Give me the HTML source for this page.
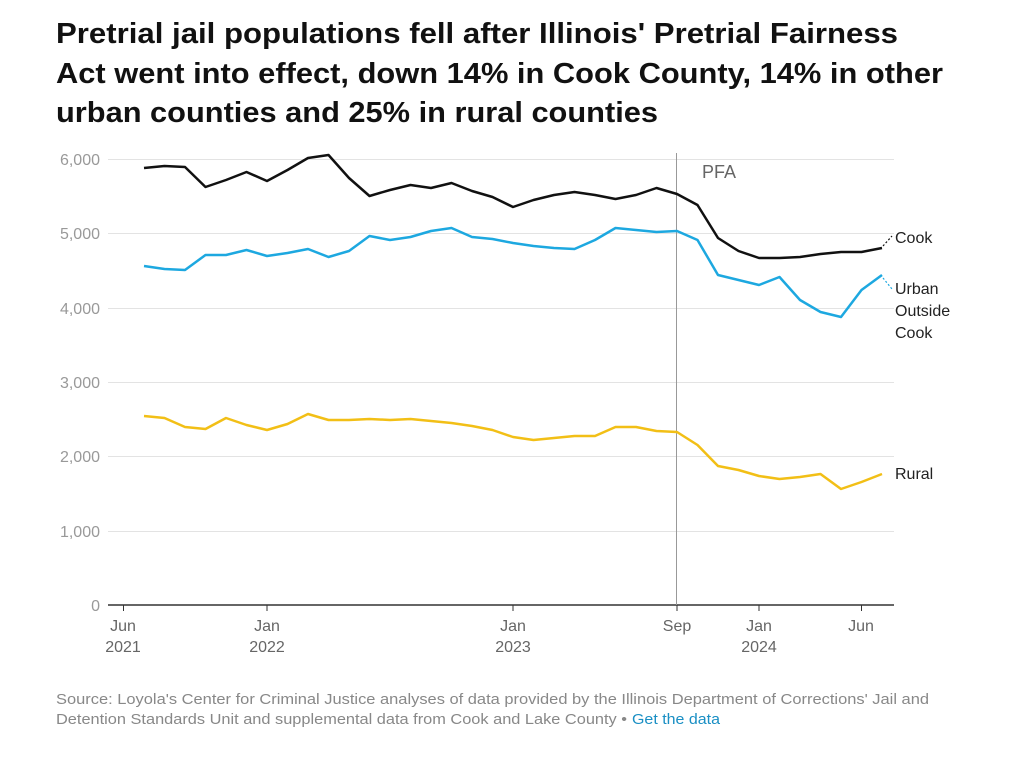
<!DOCTYPE html>
<html><head><meta charset="utf-8"><style>
body{margin:0;background:#fff;font-family:"Liberation Sans",Arial,sans-serif;}
</style></head><body>
<div style="position:relative;width:1036px;height:763px;overflow:hidden">
<svg width="1036" height="763" style="position:absolute;left:0;top:0" font-family="Liberation Sans, Arial, sans-serif">
<g fill="#111" font-size="29" font-weight="bold">
<text x="56" y="43" textLength="842" lengthAdjust="spacingAndGlyphs">Pretrial jail populations fell after Illinois' Pretrial Fairness</text>
<text x="56" y="83" textLength="887" lengthAdjust="spacingAndGlyphs">Act went into effect, down 14% in Cook County, 14% in other</text>
<text x="56" y="122" textLength="602" lengthAdjust="spacingAndGlyphs">urban counties and 25% in rural counties</text>
</g>
<g stroke="#e3e3e3" stroke-width="1">
<line x1="108" x2="894" y1="159.5" y2="159.5"/><line x1="108" x2="894" y1="233.5" y2="233.5"/><line x1="108" x2="894" y1="308.5" y2="308.5"/><line x1="108" x2="894" y1="382.5" y2="382.5"/><line x1="108" x2="894" y1="456.5" y2="456.5"/><line x1="108" x2="894" y1="531.5" y2="531.5"/>
</g>
<line x1="108" x2="894" y1="605" y2="605" stroke="#333" stroke-width="1.5"/>
<g fill="#999" font-size="16" text-anchor="end">
<text x="100" y="165">6,000</text><text x="100" y="239">5,000</text><text x="100" y="314">4,000</text><text x="100" y="388">3,000</text><text x="100" y="462">2,000</text><text x="100" y="537">1,000</text><text x="100" y="611">0</text>
</g>
<g stroke="#333"><line x1="123.5" x2="123.5" y1="605" y2="611"/><line x1="267" x2="267" y1="605" y2="611"/><line x1="513" x2="513" y1="605" y2="611"/><line x1="677" x2="677" y1="605" y2="611"/><line x1="759" x2="759" y1="605" y2="611"/><line x1="861.5" x2="861.5" y1="605" y2="611"/></g>
<g fill="#666" font-size="16" text-anchor="middle">
<text x="123" y="631">Jun</text><text x="123" y="652">2021</text>
<text x="267" y="631">Jan</text><text x="267" y="652">2022</text>
<text x="513" y="631">Jan</text><text x="513" y="652">2023</text>
<text x="677" y="631">Sep</text>
<text x="759" y="631">Jan</text><text x="759" y="652">2024</text>
<text x="861" y="631">Jun</text>
</g>
<line x1="676.5" x2="676.5" y1="153" y2="605" stroke="#999" stroke-width="1"/>
<text x="702" y="178" fill="#666" font-size="18">PFA</text>
<polyline fill="none" stroke="#111" stroke-width="2.5" stroke-linejoin="round" points="144,168 164.5,166 185,167 205.5,187 226,180 246.5,172 267,181 287.5,170 308,158 328.5,155 349,178 369.5,196 390,190 410.5,185 431,188 451.5,183 472,191 492.5,197 513,207 533.5,200 554,195 574.5,192 595,195 615.5,199 636,195 656.5,188 677,194 697.5,205 718,238 738.5,251 759,258 779.5,258 800,257 820.5,254 841,252 861.5,252 882,248"/>
<polyline fill="none" stroke="#1da8e0" stroke-width="2.5" stroke-linejoin="round" points="144,266 164.5,269 185,270 205.5,255 226,255 246.5,250 267,256 287.5,253 308,249 328.5,257 349,251 369.5,236 390,240 410.5,237 431,231 451.5,228 472,237 492.5,239 513,243 533.5,246 554,248 574.5,249 595,240 615.5,228 636,230 656.5,232 677,231 697.5,240 718,275 738.5,280 759,285 779.5,277 800,300 820.5,312 841,317 861.5,290 882,275"/>
<polyline fill="none" stroke="#f2bf16" stroke-width="2.5" stroke-linejoin="round" points="144,416 164.5,418 185,427 205.5,429 226,418 246.5,425 267,430 287.5,424 308,414 328.5,420 349,420 369.5,419 390,420 410.5,419 431,421 451.5,423 472,426 492.5,430 513,437 533.5,440 554,438 574.5,436 595,436 615.5,427 636,427 656.5,431 677,432 697.5,445 718,466 738.5,470 759,476 779.5,479 800,477 820.5,474 841,489 861.5,482 882,474"/>
<line x1="883" y1="246" x2="892" y2="236" stroke="#111" stroke-width="1.2" stroke-dasharray="2,2"/>
<line x1="883" y1="278" x2="892" y2="289" stroke="#1da8e0" stroke-width="1.2" stroke-dasharray="2,2"/>
<g fill="#222" font-size="16">
<text x="895" y="243">Cook</text>
<text x="895" y="294">Urban</text><text x="895" y="316">Outside</text><text x="895" y="338">Cook</text>
<text x="895" y="479">Rural</text>
</g>
<g fill="#888" font-size="15">
<text x="56" y="704" textLength="873" lengthAdjust="spacingAndGlyphs">Source: Loyola's Center for Criminal Justice analyses of data provided by the Illinois Department of Corrections' Jail and</text>
<text x="56" y="724" textLength="571" lengthAdjust="spacingAndGlyphs">Detention Standards Unit and supplemental data from Cook and Lake County •</text>
<text x="632" y="724" fill="#1a8fc4" textLength="88" lengthAdjust="spacingAndGlyphs">Get the data</text>
</g>
</svg>
</div>
</body></html>
